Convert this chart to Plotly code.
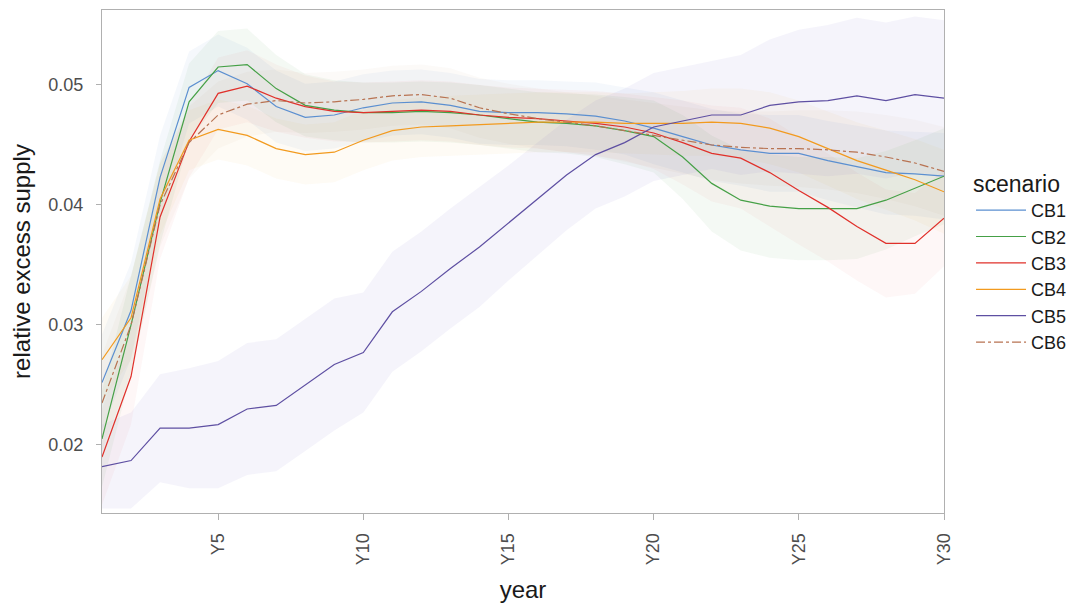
import plotly.graph_objects as go

years = list(range(1, 31))
tick_years = [5, 10, 15, 20, 25, 30]
tick_labels = ["Y5", "Y10", "Y15", "Y20", "Y25", "Y30"]
y_ticks = [0.02, 0.03, 0.04, 0.05]

scenarios = ["CB1", "CB2", "CB3", "CB4", "CB5", "CB6"]

cb1 = [0.0252, 0.0312, 0.0423, 0.0498, 0.0512, 0.0501, 0.0482, 0.0473, 0.0475, 0.0481,
       0.0485, 0.0486, 0.0483, 0.0478, 0.0477, 0.0477, 0.0476, 0.0474, 0.0470, 0.0464,
       0.0457, 0.0450, 0.0446, 0.0443, 0.0443, 0.0437, 0.0432, 0.0427, 0.0426, 0.0424]
cb2 = [0.0205, 0.0300, 0.0402, 0.0486, 0.0515, 0.0517, 0.0497, 0.0483, 0.0479, 0.0477,
       0.0477, 0.0478, 0.0477, 0.0475, 0.0472, 0.0469, 0.0468, 0.0466, 0.0462, 0.0457,
       0.0440, 0.0418, 0.0404, 0.0399, 0.0397, 0.0397, 0.0397, 0.0404, 0.0414, 0.0424]
cb3 = [0.0190, 0.0257, 0.0390, 0.0453, 0.0493, 0.0499, 0.0489, 0.0482, 0.0478, 0.0477,
       0.0478, 0.0479, 0.0478, 0.0475, 0.0473, 0.0472, 0.0470, 0.0468, 0.0465, 0.0460,
       0.0452, 0.0443, 0.0439, 0.0427, 0.0412, 0.0398, 0.0382, 0.0368, 0.0368, 0.0389]
cb4 = [0.0271, 0.0306, 0.0405, 0.0454, 0.0463, 0.0458, 0.0447, 0.0442, 0.0444, 0.0454,
       0.0462, 0.0465, 0.0466, 0.0467, 0.0468, 0.0469, 0.0469, 0.0469, 0.0468, 0.0468,
       0.0468, 0.0469, 0.0468, 0.0464, 0.0457, 0.0447, 0.0437, 0.0429, 0.0421, 0.0411]
cb5 = [0.0182, 0.0187, 0.0214, 0.0214, 0.0217, 0.0230, 0.0233, 0.0250, 0.0267, 0.0277,
       0.0311, 0.0328, 0.0347, 0.0365, 0.0385, 0.0405, 0.0425, 0.0442, 0.0452, 0.0465,
       0.0470, 0.0475, 0.0475, 0.0483, 0.0486, 0.0487, 0.0491, 0.0487, 0.0492, 0.0489]
cb6 = [0.0235, 0.0300, 0.0400, 0.0452, 0.0475, 0.0484, 0.0487, 0.0485, 0.0486, 0.0488,
       0.0491, 0.0492, 0.0489, 0.0481, 0.0476, 0.0472, 0.0469, 0.0466, 0.0462, 0.0458,
       0.0454, 0.0450, 0.0448, 0.0447, 0.0447, 0.0446, 0.0444, 0.0440, 0.0435, 0.0428]

# half-widths of the shaded uncertainty ribbons
cb1_spread = [0.0040, 0.0040, 0.0035, 0.0030, 0.0030, 0.0030, 0.0030, 0.0028, 0.0028, 0.0028,
              0.0027, 0.0027, 0.0027, 0.0027, 0.0027, 0.0027, 0.0027, 0.0028, 0.0028, 0.0030,
              0.0030, 0.0030, 0.0030, 0.0032, 0.0032, 0.0033, 0.0034, 0.0035, 0.0035, 0.0036]
cb2_spread = [0.0040, 0.0040, 0.0035, 0.0032, 0.0030, 0.0030, 0.0028, 0.0026, 0.0025, 0.0025,
              0.0025, 0.0025, 0.0025, 0.0025, 0.0025, 0.0025, 0.0025, 0.0026, 0.0028, 0.0030,
              0.0035, 0.0040, 0.0042, 0.0043, 0.0043, 0.0043, 0.0042, 0.0041, 0.0040, 0.0040]
cb3_spread = [0.0040, 0.0040, 0.0035, 0.0030, 0.0030, 0.0030, 0.0028, 0.0026, 0.0025, 0.0025,
              0.0025, 0.0025, 0.0025, 0.0025, 0.0025, 0.0025, 0.0026, 0.0027, 0.0028, 0.0030,
              0.0035, 0.0040, 0.0042, 0.0045, 0.0045, 0.0045, 0.0045, 0.0045, 0.0042, 0.0040]
cb4_spread = [0.0035, 0.0035, 0.0030, 0.0025, 0.0025, 0.0025, 0.0025, 0.0025, 0.0025, 0.0025,
              0.0025, 0.0025, 0.0025, 0.0025, 0.0025, 0.0025, 0.0025, 0.0025, 0.0025, 0.0026,
              0.0027, 0.0028, 0.0029, 0.0030, 0.0030, 0.0031, 0.0032, 0.0033, 0.0034, 0.0035]
cb5_spread = [0.0035, 0.0040, 0.0045, 0.0050, 0.0053, 0.0055, 0.0055, 0.0055, 0.0055, 0.0050,
              0.0050, 0.0050, 0.0050, 0.0050, 0.0048, 0.0047, 0.0046, 0.0045, 0.0045, 0.0045,
              0.0045, 0.0045, 0.0050, 0.0055, 0.0060, 0.0063, 0.0065, 0.0065, 0.0065, 0.0065]
cb6_spread = [0.0040, 0.0040, 0.0035, 0.0030, 0.0028, 0.0027, 0.0026, 0.0025, 0.0025, 0.0025,
              0.0025, 0.0025, 0.0025, 0.0025, 0.0025, 0.0025, 0.0025, 0.0025, 0.0026, 0.0027,
              0.0028, 0.0029, 0.0030, 0.0031, 0.0032, 0.0033, 0.0034, 0.0035, 0.0036, 0.0037]

values = [cb1, cb2, cb3, cb4, cb5, cb6]
spreads = [cb1_spread, cb2_spread, cb3_spread, cb4_spread, cb5_spread, cb6_spread]
line_colors = ["#5b8fd0", "#45a046", "#e0302a", "#f29a1e", "#5e4fa2", "#b87352"]
band_colors = ["rgba(91,143,208,0.06)", "rgba(69,160,70,0.06)", "rgba(224,48,42,0.04)",
               "rgba(242,154,30,0.045)", "rgba(130,110,200,0.08)", "rgba(184,115,82,0.04)"]
dashes = ["solid", "solid", "solid", "solid", "solid", "dashdot"]

fig = go.Figure()

for name, v, s, bc in zip(scenarios, values, spreads, band_colors):
    upper = [a + b for a, b in zip(v, s)]
    lower = [a - b for a, b in zip(v, s)]
    fig.add_trace(go.Scatter(
        x=years + years[::-1], y=upper + lower[::-1],
        fill="toself", fillcolor=bc, line=dict(width=0),
        hoverinfo="skip", showlegend=False, legendgroup=name, mode="lines"))

for name, v, lc, d in zip(scenarios, values, line_colors, dashes):
    fig.add_trace(go.Scatter(
        x=years, y=v, mode="lines", name=name, legendgroup=name,
        line=dict(color=lc, width=1.2, dash=d)))

FONT = "Liberation Sans, Arial, sans-serif"
tick_font = dict(family=FONT, size=18, color="#4d4d4d")

fig.update_layout(
    width=1070, height=603,
    margin=dict(l=102, r=126, t=10, b=90),
    plot_bgcolor="white", paper_bgcolor="white",
    font=dict(family=FONT, color="#1a1a1a"),
    xaxis=dict(
        range=[1, 30], tickvals=tick_years, ticktext=tick_labels, tickangle=-90,
        showgrid=False, zeroline=False, showline=True, linecolor="#b0b0b0", mirror=True,
        ticks="outside", ticklen=6, tickcolor="#b0b0b0", tickfont=tick_font,
        ticklabelstandoff=6, automargin=False,
        title=dict(text="year", font=dict(size=24, color="#1a1a1a"), standoff=19)),
    yaxis=dict(
        range=[0.01433, 0.05625], tickvals=y_ticks, ticktext=["0.02", "0.03", "0.04", "0.05"],
        showgrid=False, zeroline=False, showline=True, linecolor="#b0b0b0", mirror=True,
        ticks="outside", ticklen=5, tickcolor="#b0b0b0", tickfont=tick_font,
        ticklabelstandoff=9, automargin=False,
        title=dict(text="relative excess supply", font=dict(size=24, color="#1a1a1a"), standoff=10)),
    legend=dict(
        title=dict(text="scenario", font=dict(size=23, color="#1a1a1a")),
        font=dict(size=18, color="#1a1a1a"),
        xref="container", x=0.9075, xanchor="left", y=0.5, yanchor="middle", itemwidth=50,
        bgcolor="rgba(0,0,0,0)", tracegroupgap=0),
)

fig.write_html(
    "out.html",
    config={"displayModeBar": False},
    post_script="document.body.style.margin='0';document.body.style.overflow='hidden';",
)
